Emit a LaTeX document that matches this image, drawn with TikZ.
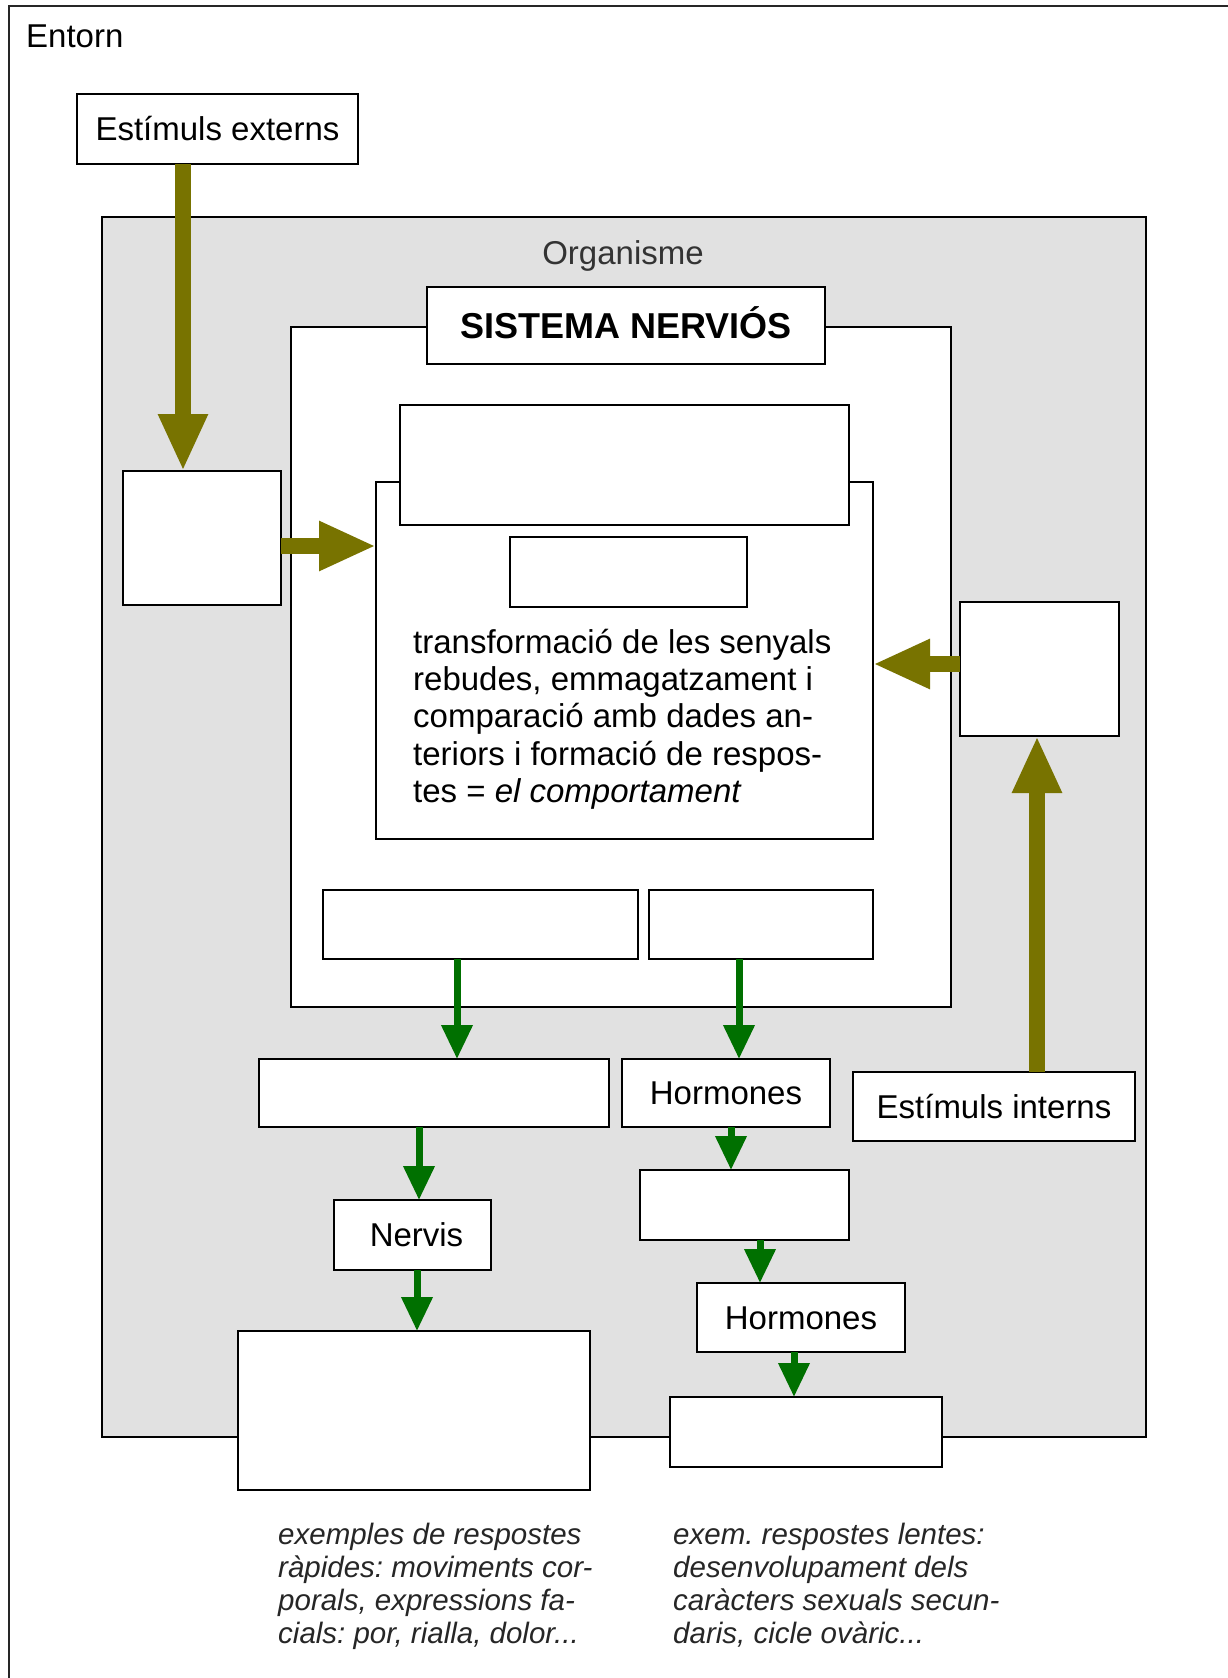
\documentclass[tikz,border=0pt]{standalone}
\usepackage{fontspec}
\setmainfont{Liberation Sans}
\usetikzlibrary{arrows.meta}
\definecolor{olivearr}{RGB}{120,115,0}
\definecolor{greenarr}{RGB}{0,112,0}
\definecolor{orggray}{RGB}{225,225,225}
\frenchspacing
\newcommand{\rbox}[7]{%
  \pgfmathsetmacro{\bw}{#5-#3}%
  \pgfmathsetmacro{\bh}{#6-#4}%
  \node[#1, anchor=north west, minimum width=\bw pt, minimum height=\bh pt] (#2) at (#3,#4) {#7};%
}
\tikzset{
  box/.style={draw=black, line width=2pt, fill=white, inner sep=0pt, outer sep=0pt},
  tbox/.style={box, font=\fontsize{33}{38}\selectfont, text height=23.8pt, text depth=0pt},
  orgbox/.style={draw=black, line width=2pt, fill=orggray, inner sep=0pt, outer sep=0pt},
  lbl/.style={inner sep=0pt, font=\fontsize{33}{38}\selectfont},
  itx/.style={inner sep=0pt, text=black!85, font=\fontsize{29.5}{33}\selectfont\itshape},
  oarr/.style={draw=olivearr, line width=16pt, -{Triangle[length=57pt,width=46pt]}},
  garr/.style={draw=greenarr, line width=7pt, -{Triangle[length=34pt,width=30pt]}}
}
\begin{document}
\begin{tikzpicture}[x=1pt,y=-1pt]
\useasboundingbox (0,0) rectangle (1228,1678);
\fill[white] (0,0) rectangle (1228,1678);
% Entorn frame (cut off at right and bottom)
\draw[line width=2pt, black!85] (1228,6.5) -- (8.5,6.5) -- (8.5,1678);
\node[lbl, anchor=base west] (entorn) at (26,48) {Entorn};
\rbox{tbox}{ext}{77}{94}{358}{164}{Estímuls externs}
% Organisme
\rbox{orgbox}{org}{102}{217}{1146}{1437}{}
\node[lbl, anchor=base, text=black!80] (orglbl) at (623,264) {Organisme};
% Sistema nerviós
\rbox{box}{sn}{291}{327}{951}{1007}{}
\rbox{box, text height=26pt, text depth=0pt, font=\fontsize{36}{40}\selectfont\bfseries}{sntitle}{427}{287}{825}{364}{SISTEMA NERVIÓS}
\rbox{box}{proc}{376}{482}{873}{839}{}
\rbox{box}{topb}{400}{405}{849}{525}{}
\rbox{box}{small}{510}{537}{747}{607}{}
\node[lbl, anchor=base west] (proctext) at (413,653) {\fontsize{33}{37.4}\selectfont\begin{tabular}[t]{@{}l@{}}transformació de les senyals\\ rebudes, emmagatzament i\\ comparació amb dades an-\\ teriors i formació de respos-\\ tes = \textit{el comportament}\end{tabular}};
\rbox{box}{nsl}{323}{890}{638}{959}{}
\rbox{box}{nsr}{649}{890}{873}{959}{}
% side boxes
\rbox{box}{lbox}{123}{471}{281}{605}{}
\rbox{box}{rbox}{960}{602}{1119}{736}{}
\rbox{tbox}{int}{853}{1072}{1135}{1141}{Estímuls interns}
% lower chain
\rbox{box}{bl1}{259}{1059}{609}{1127}{}
\rbox{tbox}{h1}{622}{1059}{830}{1127}{Hormones}
\rbox{tbox}{nerv}{334}{1200}{491}{1270}{\hspace*{8pt}Nervis}
\rbox{box}{hb}{640}{1170}{849}{1240}{}
\rbox{tbox}{h2}{697}{1283}{905}{1352}{Hormones}
\rbox{box}{bl2}{238}{1331}{590}{1490}{}
\rbox{box}{br2}{670}{1397}{942}{1467}{}
% olive arrows
\coordinate (xa) at (183,0);
\coordinate (ya) at (0,546);
\coordinate (yb) at (0,664);
\coordinate (xb) at (1037,0);
\draw[oarr] (ext.south -| xa) -- (lbox.north -| xa);
\draw[oarr] (lbox.east |- ya) -- (proc.west |- ya);
\draw[oarr] (rbox.west |- yb) -- (proc.east |- yb);
\draw[oarr] (int.north -| xb) -- (rbox.south -| xb);
% green arrows
\coordinate (g1) at (457,0);
\coordinate (g2) at (739,0);
\coordinate (g3) at (419,0);
\coordinate (g4) at (417,0);
\coordinate (g5) at (731,0);
\coordinate (g6) at (760,0);
\coordinate (g7) at (794,0);
\draw[garr] (nsl.south -| g1) -- (bl1.north -| g1);
\draw[garr] (nsr.south -| g2) -- (h1.north -| g2);
\draw[garr] (bl1.south -| g3) -- (nerv.north -| g3);
\draw[garr] (nerv.south -| g4) -- (bl2.north -| g4);
\draw[garr] (h1.south -| g5) -- (hb.north -| g5);
\draw[garr] (hb.south -| g6) -- (h2.north -| g6);
\draw[garr] (h2.south -| g7) -- (br2.north -| g7);
% examples
\node[itx, anchor=base west] (exl) at (278,1544) {\begin{tabular}[t]{@{}l@{}}exemples de respostes\\ ràpides: moviments cor-\\ porals, expressions fa-\\ cials: por, rialla, dolor...\end{tabular}};
\node[itx, anchor=base west] (exr) at (673,1544) {\begin{tabular}[t]{@{}l@{}}exem. respostes lentes:\\ desenvolupament dels\\ caràcters sexuals secun-\\ daris, cicle ovàric...\end{tabular}};
\end{tikzpicture}
\end{document}
